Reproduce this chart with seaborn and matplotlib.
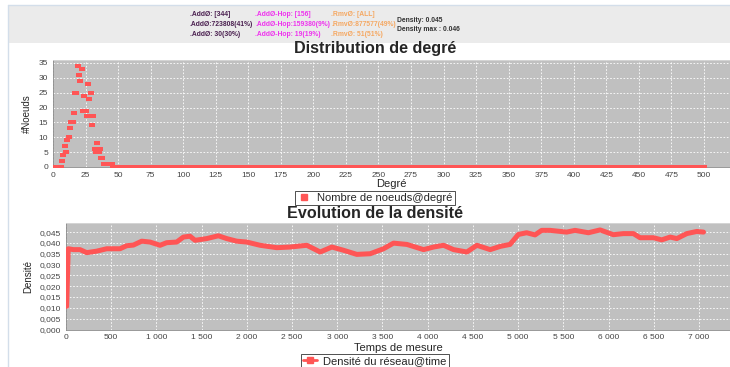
import matplotlib
matplotlib.use("Agg")
import matplotlib.pyplot as plt
import seaborn as sns
import pandas as pd
import numpy as np
from matplotlib.lines import Line2D
from matplotlib.patches import Rectangle
from matplotlib.ticker import FuncFormatter, MultipleLocator

# ---- degree distribution (degree, node count); degrees may repeat ----
degree_nonzero = [19, 22, 20, 21, 27, 17, 18, 29, 24, 28, 23, 25, 16, 26, 29, 31,
                  14, 15, 30, 13, 12, 11, 34, 9, 32, 34, 36, 10, 33, 35, 8, 37, 38,
                  7, 39, 41, 43, 45]
count_nonzero = [34, 33, 31, 29, 28, 25, 25, 25, 24, 23, 19, 19, 18, 17, 17, 17,
                 15, 15, 14, 13, 10, 9, 8, 7, 6, 6, 6, 5, 5, 5, 4, 3, 3,
                 2, 1, 1, 1, 1]
degree_empty = list(range(0, 7)) + list(range(46, 501))

# ---- density over time ----
time_pts = [7, 25, 81, 155, 229, 340, 450, 597, 671, 745, 837, 929, 1040, 1113,
            1224, 1298, 1371, 1427, 1556, 1685, 1777, 1888, 1999, 2147, 2331, 2479,
            2663, 2811, 2940, 3069, 3216, 3364, 3511, 3622, 3770, 3954, 4065, 4175,
            4286, 4433, 4544, 4691, 4802, 4910, 5002, 5094, 5187, 5260, 5353, 5537,
            5629, 5777, 5906, 6053, 6164, 6275, 6348, 6496, 6588, 6681, 6755, 6865,
            6976, 7050]
density = [0.0107, 0.0373, 0.0369, 0.0369, 0.0355, 0.0362, 0.0373, 0.0373, 0.0387,
           0.0390, 0.0408, 0.0404, 0.0389, 0.0401, 0.0404, 0.0427, 0.0431, 0.0412,
           0.0420, 0.0433, 0.0420, 0.0408, 0.0404, 0.0389, 0.0378, 0.0381, 0.0389,
           0.0358, 0.0381, 0.0366, 0.0347, 0.0350, 0.0373, 0.0399, 0.0393, 0.0369,
           0.0381, 0.0389, 0.0369, 0.0358, 0.0389, 0.0369, 0.0384, 0.0393, 0.0439,
           0.0447, 0.0437, 0.0458, 0.0458, 0.0450, 0.0458, 0.0447, 0.0460, 0.0438,
           0.0443, 0.0443, 0.0424, 0.0424, 0.0414, 0.0427, 0.0420, 0.0443, 0.0453,
           0.0450]

# ---- header statistics ----
stats_add = [".AddØ: [344]", ".AddØ:723808(41%)", ".AddØ: 30(30%)"]
stats_hop = [".AddØ-Hop: [156]", ".AddØ-Hop:159380(9%)", ".AddØ-Hop: 19(19%)"]
stats_rmv = [".RmvØ: [ALL]", ".RmvØ:877577(49%)", ".RmvØ: 51(51%)"]
stats_density = ["Density: 0.045", "Density max : 0.046"]

RED = "#FF5555"
PLOT_BG = "#C0C0C0"

sns.set_style("white")
plt.rcParams["font.family"] = ["Liberation Sans", "DejaVu Sans"]

W, H = 730, 367
fig = plt.figure(figsize=(W / 100, H / 100), dpi=100)


def box(l, t, r, b):
    return [l / W, 1 - b / H, (r - l) / W, (b - t) / H]


# header panel
fig.add_artist(Rectangle((8 / W, 1 - 43 / H), 1, 38 / H, transform=fig.transFigure,
                         facecolor="#EBEBEB", edgecolor="none", zorder=0))
fig.add_artist(Line2D([8 / W, 1], [1 - 5 / H, 1 - 5 / H], transform=fig.transFigure,
                      color="#D3DEEA", lw=1))
fig.add_artist(Line2D([8 / W, 8 / W], [0, 1 - 5 / H], transform=fig.transFigure,
                      color="#D3DEEA", lw=1))

hdr_font = dict(family=["Liberation Sans"], fontsize=4.9,
                fontweight="bold", va="center", ha="left")
for i, (a, h, r) in enumerate(zip(stats_add, stats_hop, stats_rmv)):
    y = 1 - (15 + 9.7 * i) / H
    fig.text(190 / W, y, a, color="#4A2050", **hdr_font)
    fig.text(255 / W, y, h, color="#EE33EE", **hdr_font)
    fig.text(331 / W, y, r, color="#F5A862", **hdr_font)
for i, s in enumerate(stats_density):
    fig.text(397 / W, 1 - (20 + 9.5 * i) / H, s, color="#333333", **hdr_font)


def style_axes(ax):
    ax.set_facecolor(PLOT_BG)
    ax.grid(True, color="white", linestyle=(0, (2, 2)), linewidth=0.6)
    ax.set_axisbelow(True)
    for side in ("top", "right"):
        ax.spines[side].set_color("#D8D8D8")
        ax.spines[side].set_linewidth(0.6)
    for side in ("left", "bottom"):
        ax.spines[side].set_color("#888888")
        ax.spines[side].set_linewidth(0.6)
    ax.tick_params(axis="both", labelsize=6, colors="#444444", length=2, width=0.5,
                   pad=1.5)


# ---- degree distribution panel ----
ax1 = fig.add_axes(box(53, 60, 730, 167))
style_axes(ax1)
rect_marker = [(-1, -0.58), (1, -0.58), (1, 0.58), (-1, 0.58)]
deg_df = pd.DataFrame({
    "degree": degree_empty + degree_nonzero,
    "count": [0] * len(degree_empty) + count_nonzero,
})
sns.scatterplot(data=deg_df, x="degree", y="count", ax=ax1, marker=rect_marker,
                s=20, color=RED, linewidth=0, zorder=3)
ax1.set_xlim(0, 520)
ax1.set_ylim(0, 36)
ax1.xaxis.set_major_locator(MultipleLocator(25))
ax1.yaxis.set_major_locator(MultipleLocator(5))
ax1.set_xlabel("Degré", fontsize=8, labelpad=0)
ax1.set_ylabel("#Noeuds", fontsize=7, labelpad=5)

fig.text(375 / W, 1 - 49 / H, "Distribution de degré", ha="center", va="center",
         fontsize=11.6, fontweight="bold")
leg1 = fig.legend(handles=[Line2D([], [], marker="s", color=RED, linestyle="none",
                                  markersize=4)],
                  labels=["Nombre de noeuds@degré"], loc="center",
                  bbox_to_anchor=(375 / W, 1 - 198 / H), fontsize=8,
                  frameon=True, fancybox=False, borderpad=0.2, handlelength=1.2,
                  handletextpad=0.6, borderaxespad=0)
leg1.get_frame().set_edgecolor("black")
leg1.get_frame().set_linewidth(0.6)

# ---- density panel ----
ax2 = fig.add_axes(box(66, 223, 730, 329.5))
style_axes(ax2)
dens_df = pd.DataFrame({"time": time_pts, "density": density})
sns.lineplot(data=dens_df, x="time", y="density", ax=ax2, color=RED, linewidth=3.6,
             sort=False, estimator=None, zorder=3)
ax2.set_xlim(0, 7343)
ax2.set_ylim(0, 0.0492)
ax2.xaxis.set_major_locator(MultipleLocator(500))
ax2.yaxis.set_major_locator(MultipleLocator(0.005))
ax2.xaxis.set_major_formatter(FuncFormatter(lambda v, p: f"{int(round(v)):,}".replace(",", " ")))
ax2.yaxis.set_major_formatter(FuncFormatter(lambda v, p: f"{v:.3f}".replace(".", ",")))
ax2.set_xlabel("Temps de mesure", fontsize=8, labelpad=1)
ax2.set_ylabel("Densité", fontsize=7, labelpad=5)

fig.text(375 / W, 1 - 213 / H, "Evolution de la densité", ha="center", va="center",
         fontsize=11.6, fontweight="bold")
leg2 = fig.legend(handles=[Line2D([], [], marker="s", color=RED, linewidth=2,
                                  markersize=4)],
                  labels=["Densité du réseau@time"], loc="center",
                  bbox_to_anchor=(375 / W, 1 - 361 / H), fontsize=8,
                  frameon=True, fancybox=False, borderpad=0.2, handlelength=1.2,
                  handletextpad=0.6, borderaxespad=0)
leg2.get_frame().set_edgecolor("black")
leg2.get_frame().set_linewidth(0.6)

fig.savefig("out.png", dpi=100)
